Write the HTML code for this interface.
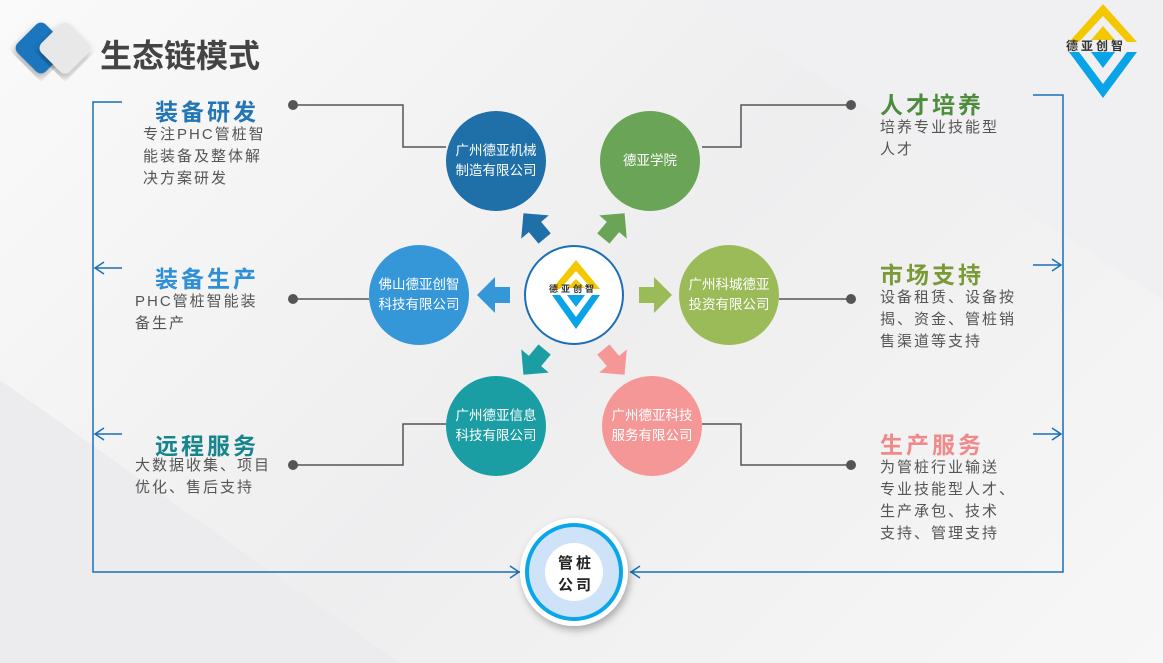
<!DOCTYPE html>
<html><head><meta charset="utf-8"><style>
body{margin:0;width:1163px;height:663px;overflow:hidden;font-family:"Liberation Sans","Noto Sans CJK SC",sans-serif;background:linear-gradient(135deg,#fafafa,#eeeeef 50%,#f7f7f7);position:relative}
.t{position:absolute;font-weight:bold;font-size:23px;letter-spacing:3px;white-space:nowrap}
.d{position:absolute;font-size:15px;color:#555;letter-spacing:2px;line-height:22px;white-space:nowrap}
.c{position:absolute;border-radius:50%;color:#fff;font-size:13.5px;line-height:20px;text-align:center;display:flex;align-items:center;justify-content:center}
</style></head><body>
<svg width="1163" height="663" style="position:absolute;left:0;top:0">
<defs><filter id="sh"><feDropShadow dx="2" dy="4" stdDeviation="4" flood-opacity="0.3"/></filter></defs>
<polygon points="0,380 400,663 0,663" fill="#ececee"/>
<polygon points="700,0 1163,0 1163,300" fill="#f0f0f2"/>
<rect x="21" y="28" width="40" height="40" rx="7" transform="rotate(45 41 48)" fill="#1b76bd" filter="url(#sh)"/>
<rect x="45" y="28" width="40" height="40" rx="7" transform="rotate(45 65 48)" fill="#e8e8e8" filter="url(#sh)"/>
<g transform="translate(1103,50)">
<polygon points="0,-46 34,-8 24,-8 0,-34 -24,-8 -34,-8" fill="#f4c800"/>
<polygon points="0,-24 12,-10 -12,-10" fill="#f4c800"/>
<polygon points="-34,2 -24,2 0,34 24,2 34,2 0,48" fill="#09a3e8"/>
<polygon points="-12,2 12,2 0,18" fill="#09a3e8"/>
</g>
<g stroke="#1b6fb8" stroke-width="1.5" fill="none">
<polyline points="122,102 93,102 93,572 520,572"/>
<polyline points="1033,95 1063,95 1063,572 630,572"/>
<line x1="122" y1="268" x2="95" y2="268"/><polyline points="104,262 95,268 104,274"/>
<line x1="122" y1="434" x2="95" y2="434"/><polyline points="104,428 95,434 104,440"/>
<line x1="1033" y1="265" x2="1061" y2="265"/><polyline points="1052,259 1061,265 1052,271"/>
<line x1="1033" y1="434" x2="1061" y2="434"/><polyline points="1052,428 1061,434 1052,440"/>
<polyline points="510,566 519,572 510,578"/><polyline points="640,566 631,572 640,578"/>
</g>
<g stroke="#555" stroke-width="1.5" fill="none">
<polyline points="293,105 403,105 403,147 446,147"/>
<line x1="293" y1="299" x2="369" y2="299"/>
<polyline points="293,465 403,465 403,424 446,424"/>
<polyline points="851,105 741,105 741,147 702,147"/>
<line x1="851" y1="299" x2="779" y2="299"/>
<polyline points="851,465 741,465 741,424 702,424"/>
</g>
<g fill="#555"><circle cx="293" cy="105" r="5"/><circle cx="293" cy="299" r="5"/><circle cx="293" cy="465" r="5"/><circle cx="851" cy="105" r="5"/><circle cx="851" cy="299" r="5"/><circle cx="851" cy="465" r="5"/></g>
<defs><polygon id="ar" points="0,-18 18,0 8,0 8,15 -8,15 -8,0 -18,0"/></defs>
<use href="#ar" fill="#1f6fa8" transform="translate(535,227) rotate(-40)"/>
<use href="#ar" fill="#6aa457" transform="translate(613,227) rotate(40)"/>
<use href="#ar" fill="#3597d8" transform="translate(495,295) rotate(-90)"/>
<use href="#ar" fill="#9bbb59" transform="translate(654,295) rotate(90)"/>
<use href="#ar" fill="#1b9ea3" transform="translate(535,361) rotate(-140)"/>
<use href="#ar" fill="#f59797" transform="translate(613,361) rotate(140)"/>
<circle cx="574" cy="295" r="49" fill="#fff" stroke="#1b6fb8" stroke-width="2"/>
<g transform="translate(576,295)">
<polygon points="0,-35 24,-6 16,-6 0,-24 -16,-6 -24,-6" fill="#f4c800"/>
<polygon points="0,-16 9,-7 -9,-7" fill="#f4c800"/>
<polygon points="-24,0 -16,0 0,22 16,0 24,0 0,34" fill="#09a3e8"/>
<polygon points="-9,0 9,0 0,12" fill="#09a3e8"/>
</g>
<circle cx="574" cy="572" r="54" fill="#fff" filter="url(#sh)"/>
<circle cx="574" cy="572" r="47" fill="#cfe3f8" stroke="#0aa6ea" stroke-width="4"/>
<circle cx="574" cy="572" r="29" fill="#fff"/>
</svg>
<div style="position:absolute;left:100px;top:31px;font-size:32px;font-weight:bold;color:#444">生态链模式</div>
<div style="position:absolute;left:1066px;top:37px;font-size:12px;font-weight:bold;color:#333;letter-spacing:3px">德亚创智</div>
<div style="position:absolute;left:549px;top:282px;font-size:9px;font-weight:bold;color:#333;letter-spacing:3px">德亚创智</div>
<div style="position:absolute;left:556px;top:553px;font-size:15px;font-weight:bold;color:#222;line-height:22px;letter-spacing:3px;width:40px;text-align:center">管桩<br>公司</div>

<div class="c" style="left:446px;top:111px;width:100px;height:100px;background:#1f6fa8">广州德亚机械<br>制造有限公司</div>
<div class="c" style="left:600px;top:111px;width:100px;height:100px;background:#6aa457">德亚学院</div>
<div class="c" style="left:369px;top:245px;width:100px;height:100px;background:#3597d8">佛山德亚创智<br>科技有限公司</div>
<div class="c" style="left:679px;top:245px;width:100px;height:100px;background:#9bbb59">广州科城德亚<br>投资有限公司</div>
<div class="c" style="left:446px;top:376px;width:100px;height:100px;background:#1b9ea3">广州德亚信息<br>科技有限公司</div>
<div class="c" style="left:602px;top:376px;width:100px;height:100px;background:#f59797">广州德亚科技<br>服务有限公司</div>

<div class="t" style="left:155px;top:93px;color:#2475b5">装备研发</div>
<div class="d" style="left:143px;top:124px">专注PHC管桩智<br>能装备及整体解<br>决方案研发</div>
<div class="t" style="left:155px;top:260px;color:#2e8fd6">装备生产</div>
<div class="d" style="left:135px;top:291px">PHC管桩智能装<br>备生产</div>
<div class="t" style="left:155px;top:427px;color:#16858e">远程服务</div>
<div class="d" style="left:135px;top:455px">大数据收集、项目<br>优化、售后支持</div>
<div class="t" style="left:880px;top:86px;color:#4d8c3c">人才培养</div>
<div class="d" style="left:880px;top:117px">培养专业技能型<br>人才</div>
<div class="t" style="left:880px;top:256px;color:#7a9a37">市场支持</div>
<div class="d" style="left:880px;top:287px">设备租赁、设备按<br>揭、资金、管桩销<br>售渠道等支持</div>
<div class="t" style="left:880px;top:426px;color:#f08a8a">生产服务</div>
<div class="d" style="left:880px;top:457px">为管桩行业输送<br>专业技能型人才、<br>生产承包、技术<br>支持、管理支持</div>
</body></html>
